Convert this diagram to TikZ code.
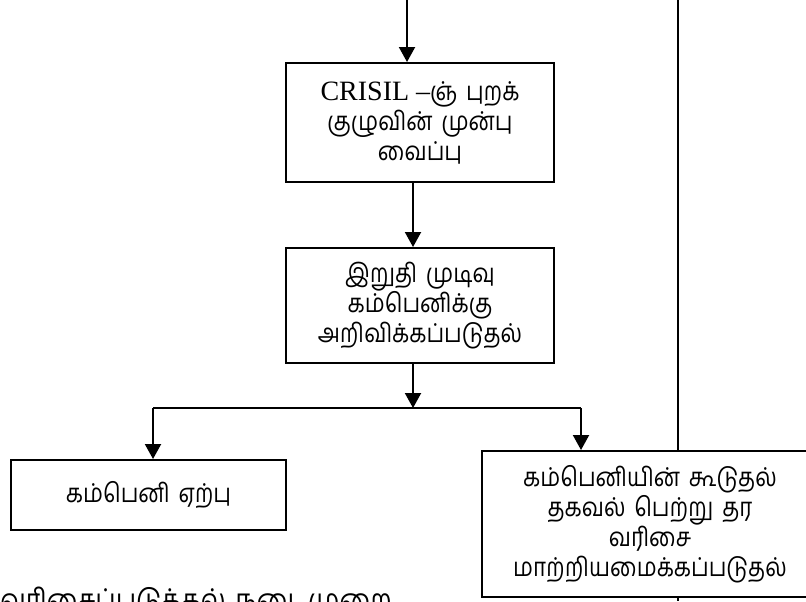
\documentclass[tikz,border=0pt]{standalone}
\usepackage{fontspec}
\setmainfont{Liberation Serif}
\newfontfamily\tamilfont[Script=Tamil, FakeStretch=0.86, WordSpace=1.6]{Hind Madurai}
\usetikzlibrary{arrows.meta, positioning}
\tikzset{stage/.style={draw, line width=1pt, align=center, inner sep=2pt, font=\tamilfont\fontsize{13}{15}\selectfont}}
\tikzset{flow/.style={line width=1pt, -{Triangle[length=7.5pt, width=8pt]}}}

\begin{document}
\begin{tikzpicture}[x=0.5pt, y=-0.5pt]
\useasboundingbox (0,0) rectangle (806,601);
% Nodes
\node (review) [stage, minimum width=134pt, minimum height=59.5pt] at (420,122.5) {{\rmfamily\fontsize{14}{15}\selectfont CRISIL –}ஞ் புறக்\\குழுவின் முன்பு\\வைப்பு};
\node (decision) [stage, minimum width=134pt, minimum height=57.5pt] at (420,305.5) {இறுதி முடிவு\\கம்பெனிக்கு\\அறிவிக்கப்படுதல்};
\node (accept) [stage, minimum width=137.5pt, minimum height=35pt] at (148.5,495) {கம்பெனி ஏற்பு};
\node (revise) [stage, minimum width=168pt, minimum height=73pt] at (650,524) {கம்பெனியின் கூடுதல்\\தகவல் பெற்று தர\\வரிசை\\மாற்றியமைக்கப்படுதல்};
\node (caption) [anchor=north west, inner sep=0pt, font=\tamilfont\fontsize{15}{18}\selectfont] at (0,587) {வரிசைப்படுக்கல் நடைமுறை};

\coordinate (entry) at (407,0);
\coordinate (split) at (413,408);
\coordinate (splitL) at (153,408);
\coordinate (splitR) at (581,408);
\coordinate (railTop) at (678,0);
\coordinate (railEnd) at (678,601);

% Connectors
\begin{scope}[flow]
\draw (entry) -- (entry |- review.north);
\draw ([xshift=-3.5pt]review.south) -- ([xshift=-3.5pt]decision.north);
\draw ([xshift=-3.5pt]decision.south) -- (split);
\draw (splitL) -- (splitL |- accept.north);
\draw (splitR) -- (splitR |- revise.north);
\end{scope}

\draw [line width=1pt] (splitL) -- (splitR);
\draw [line width=0.8pt] (railTop) -- (railTop |- revise.north);
\draw [line width=0.8pt] (revise.south -| railEnd) -- (railEnd);

\end{tikzpicture}
\end{document}
